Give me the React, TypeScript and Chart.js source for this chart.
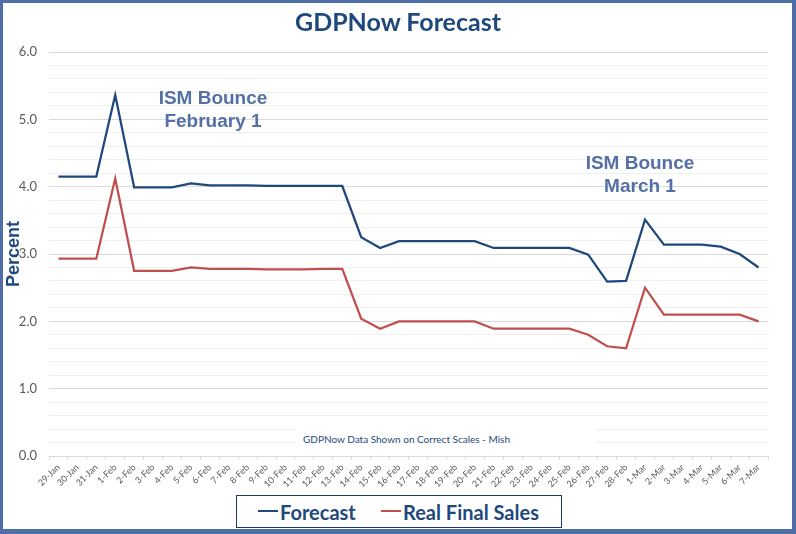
import React, { useEffect, useRef } from 'react';
import { Chart, registerables } from 'chart.js';

Chart.register(...registerables);

const categories = [
  '29-Jan', '30-Jan', '31-Jan',
  '1-Feb', '2-Feb', '3-Feb', '4-Feb', '5-Feb', '6-Feb', '7-Feb', '8-Feb', '9-Feb', '10-Feb',
  '11-Feb', '12-Feb', '13-Feb', '14-Feb', '15-Feb', '16-Feb', '17-Feb', '18-Feb', '19-Feb', '20-Feb',
  '21-Feb', '22-Feb', '23-Feb', '24-Feb', '25-Feb', '26-Feb', '27-Feb', '28-Feb',
  '1-Mar', '2-Mar', '3-Mar', '4-Mar', '5-Mar', '6-Mar', '7-Mar',
];

const forecastValues = [
  4.15, 4.15, 4.15,
  5.36, 3.99, 3.99, 3.99, 4.05, 4.02, 4.02, 4.02, 4.01, 4.01,
  4.01, 4.01, 4.01, 3.25, 3.09, 3.19, 3.19, 3.19, 3.19, 3.19,
  3.09, 3.09, 3.09, 3.09, 3.09, 2.99, 2.59, 2.6,
  3.51, 3.14, 3.14, 3.14, 3.11, 3.0, 2.8,
];

const realFinalSalesValues = [
  2.93, 2.93, 2.93,
  4.12, 2.75, 2.75, 2.75, 2.8, 2.78, 2.78, 2.78, 2.77, 2.77,
  2.77, 2.78, 2.78, 2.04, 1.89, 2.0, 2.0, 2.0, 2.0, 2.0,
  1.89, 1.89, 1.89, 1.89, 1.89, 1.8, 1.63, 1.6,
  2.5, 2.1, 2.1, 2.1, 2.1, 2.1, 2.0,
];

const seriesNames = ['Forecast', 'Real Final Sales'];
const chartTitle = 'GDPNow Forecast';
const yAxisTitle = 'Percent';
const noteText = 'GDPNow Data Shown on Correct Scales - Mish';
const febNote = ['ISM Bounce', 'February 1'];
const marNote = ['ISM Bounce', 'March 1'];

const BLUE = '#1F497D';
const RED = '#C0504D';
const NOTE_BLUE = '#5470A6';

const isWhole = (v: number) => Math.abs(v - Math.round(v)) < 1e-9;

export default function App() {
  const canvasRef = useRef<HTMLCanvasElement>(null);

  useEffect(() => {
    document.body.style.margin = '0';
    const canvas = canvasRef.current;
    if (!canvas) return;
    const chart = new Chart(canvas, {
      type: 'line',
      data: {
        labels: categories,
        datasets: [
          {
            label: seriesNames[0],
            data: forecastValues,
            borderColor: BLUE,
            backgroundColor: BLUE,
            borderWidth: 2.25,
            pointRadius: 0,
            tension: 0,
            fill: false,
          },
          {
            label: seriesNames[1],
            data: realFinalSalesValues,
            borderColor: RED,
            backgroundColor: RED,
            borderWidth: 2.25,
            pointRadius: 0,
            tension: 0,
            fill: false,
          },
        ],
      },
      options: {
        responsive: false,
        animation: false,
        layout: { padding: { left: 0, top: 52, right: 28, bottom: 0 } },
        plugins: {
          legend: { display: false },
          title: { display: false },
          tooltip: { enabled: false },
        },
        scales: {
          x: {
            offset: true,
            grid: {
              offset: true,
              drawOnChartArea: false,
              drawTicks: true,
              tickLength: 4,
              color: '#D9D9D9',
            },
            border: { color: '#D9D9D9' },
            ticks: {
              autoSkip: false,
              minRotation: 45,
              maxRotation: 45,
              padding: 2,
              color: '#595959',
              font: { family: 'Lato', size: 9 },
            },
            afterFit: (s: any) => {
              s.height = 78;
            },
          },
          y: {
            min: 0,
            max: 6,
            border: { display: false },
            grid: {
              drawTicks: false,
              color: (c: any) => (c.tick && isWhole(c.tick.value) ? '#D9D9D9' : '#F0F0F0'),
            },
            ticks: {
              stepSize: 0.2,
              autoSkip: false,
              padding: 12,
              color: '#595959',
              font: { family: 'Lato', size: 13 },
              callback: (v: any) => (isWhole(Number(v)) ? Number(v).toFixed(1) : ''),
            },
            title: {
              display: true,
              text: yAxisTitle,
              color: BLUE,
              font: { family: 'Liberation Sans', size: 18, weight: 'bold' },
              padding: { top: 3, bottom: 0 },
            },
            afterFit: (s: any) => {
              s.width = 49;
            },
          },
        },
      },
    });
    return () => chart.destroy();
  }, []);

  const noteStyle = (cx: number, top: number): React.CSSProperties => ({
    position: 'absolute',
    left: cx - 120,
    top,
    width: 240,
    textAlign: 'center',
    fontFamily: '"Liberation Sans", Arial, sans-serif',
    fontWeight: 'bold',
    fontSize: 19,
    lineHeight: '23px',
    color: NOTE_BLUE,
    whiteSpace: 'nowrap',
  });

  return (
    <div
      style={{
        position: 'fixed',
        left: 0,
        top: 0,
        width: 796,
        height: 534,
        background: '#FFFFFF',
        overflow: 'hidden',
      }}
    >
      <canvas
        ref={canvasRef}
        width={796}
        height={534}
        style={{ position: 'absolute', left: 0, top: 0, width: 796, height: 534 }}
      />
      <div
        style={{
          position: 'absolute',
          left: 0,
          top: 7,
          width: 796,
          textAlign: 'center',
          fontFamily: 'Lato, sans-serif',
          fontWeight: 'bold',
          fontSize: 25,
          lineHeight: '28px',
          color: BLUE,
        }}
      >
        {chartTitle}
      </div>
      <div style={noteStyle(213, 86)}>
        <div>{febNote[0]}</div>
        <div>{febNote[1]}</div>
      </div>
      <div style={noteStyle(640, 151)}>
        <div>{marNote[0]}</div>
        <div>{marNote[1]}</div>
      </div>
      <div
        style={{
          position: 'absolute',
          left: 295,
          top: 428,
          width: 301,
          height: 22,
          background: '#FFFFFF',
          boxSizing: 'border-box',
          paddingLeft: 8,
          fontFamily: 'Lato, sans-serif',
          fontSize: 10,
          lineHeight: '22px',
          color: BLUE,
          whiteSpace: 'nowrap',
        }}
      >
        {noteText}
      </div>
      <div
        style={{
          position: 'absolute',
          left: 236,
          top: 495,
          width: 326,
          height: 33,
          boxSizing: 'border-box',
          border: '1.5px solid #1F3864',
          background: '#FFFFFF',
          fontFamily: 'Lato, sans-serif',
          fontWeight: 'bold',
          fontSize: 20,
          color: BLUE,
        }}
      >
        <div style={{ position: 'absolute', left: 21, top: 14, width: 20, height: 2, background: BLUE }} />
        <div style={{ position: 'absolute', left: 43, top: 2, lineHeight: '28px', whiteSpace: 'nowrap' }}>
          {seriesNames[0]}
        </div>
        <div style={{ position: 'absolute', left: 144, top: 14, width: 20, height: 2, background: RED }} />
        <div style={{ position: 'absolute', left: 166, top: 2, lineHeight: '28px', whiteSpace: 'nowrap' }}>
          {seriesNames[1]}
        </div>
      </div>
      <div
        style={{
          position: 'absolute',
          left: 0,
          top: 0,
          width: 796,
          height: 534,
          boxSizing: 'border-box',
          borderStyle: 'solid',
          borderColor: '#4E6EA8',
          borderWidth: '3px 4px 5px 3px',
          pointerEvents: 'none',
        }}
      />
    </div>
  );
}
